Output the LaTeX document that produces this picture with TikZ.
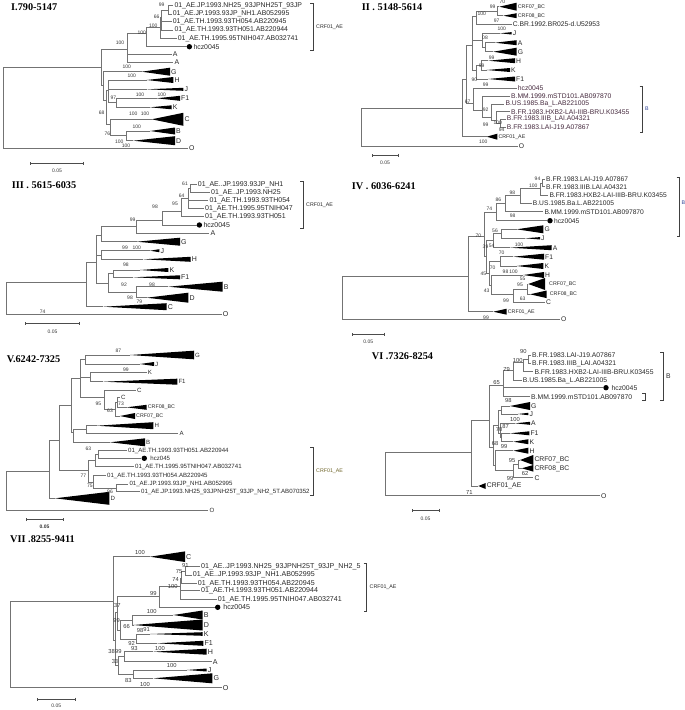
\documentclass[tikz,border=0pt]{standalone}
\usepackage{fontspec}
\setmainfont{Liberation Sans}
\newfontfamily\titlefont{Liberation Serif}
\usetikzlibrary{arrows.meta}
\definecolor{brgray}{RGB}{115,115,115}
\definecolor{txtgray}{RGB}{40,40,40}
\definecolor{bsgray}{RGB}{55,55,55}
\definecolor{bblue}{RGB}{45,65,150}
\definecolor{bred}{RGB}{70,42,62}
\definecolor{crfolive}{RGB}{110,100,40}
\tikzstyle{branch}   = [draw=brgray, line width=0.7pt]
\tikzstyle{clade}    = [fill=black]
\tikzstyle{leaf}     = [anchor=west, inner sep=1pt, text=txtgray, font=\fontsize{6.9}{7}\selectfont]
\tikzstyle{small}    = [anchor=west, inner sep=1pt, text=txtgray, font=\fontsize{5.3}{6}\selectfont]
\tikzstyle{bs}       = [inner sep=0pt, text=bsgray, font=\fontsize{5}{5}\selectfont]
\tikzstyle{dot}      = [circle, fill=black, inner sep=0pt, minimum size=5.4pt]
\tikzstyle{title}    = [anchor=west, inner sep=0pt, font=\titlefont\bfseries\fontsize{10.3}{12}\selectfont]
\tikzstyle{brk}      = [draw=black!75, line width=0.6pt]
\tikzstyle{scalebar} = [draw=black!70, line width=0.6pt, {Bar[width=3pt]}-{Bar[width=3pt]}]
% collapsed subtree: name, apex x, y, tip x, half height
\newcommand{\clade}[5]{%
  \coordinate (#1) at (#2,#3);
  \coordinate (#1t) at (#4,#3);
  \fill[clade] (#1) -- (#4,#3-#5) -- (#4,#3+#5) -- cycle;}
\begin{document}
\begin{tikzpicture}[x=1pt, y=-1pt]
\useasboundingbox (0,0) rectangle (685,710);
\fill[white] (0,0) rectangle (685,710);

% ---------------- I
\begin{scope}
\node[title] (t1) at (11,7.5) {I.790-5147};
\coordinate (a0) at (3.3,107.7);
\coordinate (a1) at (101.7,67);
\coordinate (a2) at (127.7,49.3);
\coordinate (a3) at (146.7,33.3);
\coordinate (a4) at (160,27.7);
\coordinate (a5) at (161.7,17);
\coordinate (a6) at (168.3,10);
\coordinate (a7) at (103.3,85);
\coordinate (a8) at (106,100);
\coordinate (a9) at (108.3,90);
\coordinate (a10) at (116.7,102.7);
\coordinate (a11) at (110,124);
\coordinate (a12) at (126.7,135.7);

\clade{k1g}{141.7}{71.7}{170}{4}
\clade{k1h}{146.7}{80}{173.3}{3}
\clade{k1j}{146.7}{89.3}{183.3}{1.5}
\clade{k1f}{156.7}{98.3}{180}{2.5}
\clade{k1k}{150}{107.3}{171.7}{2}
\clade{k1c}{151.7}{119.3}{183.3}{6.5}
\clade{k1b}{150}{131}{175}{3.5}
\clade{k1d}{133.3}{140.7}{175}{4.5}

\node[leaf] (l1a) at (173.3,5.7) {01\_AE.JP.1993.NH25\_93JPNH25T\_93JP};
\node[leaf] (l1b) at (171.7,14) {01\_AE.JP.1993.93JP\_NH1.AB052995};
\node[leaf] (l1c) at (171.7,21.7) {01\_AE.TH.1993.93TH054.AB220945};
\node[leaf] (l1d) at (173.3,30) {01\_AE.TH.1993.93TH051.AB220944};
\node[leaf] (l1e) at (176.7,38.3) {01\_AE.TH.1995.95TNIH047.AB032741};
\node[dot] (h1) at (189.4,46.7) {};
\node[leaf] (l1f) at (h1.east) {hcz0045};
\node[leaf] (l1g) at (171.7,54.3) {A};
\node[leaf] (l1h) at (173.3,62) {A};
\node[leaf] (l1i) at (k1gt) {G};
\node[leaf] (l1j) at (k1ht) {H};
\node[leaf] (l1k) at (k1jt) {J};
\node[leaf] (l1l) at (k1ft) {F1};
\node[leaf] (l1m) at (k1kt) {K};
\node[leaf] (l1n) at (k1ct) {C};
\node[leaf] (l1p) at (k1bt) {B};
\node[leaf] (l1q) at (k1dt) {D};
\node[leaf] (l1o) at (188,148.3) {O};

\draw[branch] (a0) |- (a1) (a0) |- (l1o.west);
\draw[branch] (a1) |- (a2) (a1) |- (a7);
\draw[branch] (a2) |- (a3) (a2) |- (l1g.west) (a2) |- (l1h.west);
\draw[branch] (a3) |- (a4) (a3) |- (h1.west);
\draw[branch] (a4) |- (a5) (a4) |- (l1e.west);
\draw[branch] (a5) |- (a6) (a5) |- (l1c.west) (a5) |- (l1d.west);
\draw[branch] (a6) |- (l1a.west) (a6) |- (l1b.west);
\draw[branch] (a7) |- (k1g) (a7) |- (a8);
\draw[branch] (a8) |- (a9) (a8) |- (a11);
\draw[branch] (a9) |- (k1h) (a9) |- (k1j) (a9) |- (a10);
\draw[branch] (a10) |- (k1f) (a10) |- (k1k);
\draw[branch] (a11) |- (k1c) (a11) |- (a12);
\draw[branch] (a12) |- (k1b) (a12) |- (k1d);

\foreach \px/\py/\bv [count=\i] in {161.7/4.3/99, 156.7/17/66, 153.3/25.5/100, 141.7/32.5/100,
    120/43/100, 126.7/66.7/100, 131.7/76/100, 113.3/98/97, 140/94.3/100, 161.7/94.3/100,
    101.7/113/68, 133.3/113.3/100, 145/113.3/100, 136.7/126.7/100, 107.3/133.3/76,
    119.3/141.7/100, 126/145.7/100}
  \node[bs] (s1-\i) at (\px,\py) {\bv};

\draw[brk] (310.3,3.3) -| (313.3,50) -- (310.3,50);
\node[small] (n1) at (315,27) {CRF01\_AE};
\coordinate (sc1a) at (30,163.3);
\coordinate (sc1b) at (84,163.3);
\draw[scalebar] (sc1a) -- (sc1b);
\node[bs] (sc1) at (57,171) {0.05};
\end{scope}

% ---------------- II
\begin{scope}[leaf/.append style={font=\fontsize{6.75}{7}\selectfont}]
\node[title] (t2) at (361.7,7.5) {II . 5148-5614};
\coordinate (b0) at (361.7,127.2);
\coordinate (b1) at (462.7,108.3);
\coordinate (b2) at (466.7,79);
\coordinate (b3) at (472.7,45);
\coordinate (b4) at (476.7,16.7);
\coordinate (b5) at (497,11);
\coordinate (b6) at (482.7,40);
\coordinate (b7) at (485,47);
\coordinate (b8) at (476.7,70);
\coordinate (b9) at (481.7,65.3);
\coordinate (b10) at (473.3,103);
\coordinate (b11) at (482.7,110);
\coordinate (b12) at (491.7,117);
\coordinate (b13) at (496.7,120);
\coordinate (b14) at (500,123);

\clade{k2a}{499.3}{6.7}{516.7}{4}
\clade{k2b}{503.3}{15.7}{516.7}{2.5}
\clade{k2j}{500}{33.3}{511.7}{1.2}
\clade{k2c}{495}{42.7}{516.7}{2.5}
\clade{k2g}{493.3}{51.7}{516.7}{4}
\clade{k2h}{488.3}{60.7}{515}{2.5}
\clade{k2k}{486.7}{70}{510}{2}
\clade{k2f}{488.3}{79}{515}{2.5}
\clade{k2e}{486.7}{136.7}{497.3}{3}

\node[small] (l2a) at (k2at) {CRF07\_BC};
\node[small] (l2b) at (k2bt) {CRF08\_BC};
\node[leaf] (l2c) at (511.7,24) {C.BR.1992.BR025-d.U52953};
\node[leaf] (l2d) at (k2jt) {J};
\node[leaf] (l2f) at (k2ct) {A};
\node[leaf] (l2g) at (k2gt) {G};
\node[leaf] (l2h) at (k2ht) {H};
\node[leaf] (l2k) at (k2kt) {K};
\node[leaf] (l2p) at (k2ft) {F1};
\node[leaf,text=bred] (l2hcz) at (516.7,88.3) {hcz0045};
\node[leaf,text=bred] (l2m) at (510,96) {B.MM.1999.mSTD101.AB097870};
\node[leaf,text=bred] (l2u) at (504.3,104) {B.US.1985.Ba\_L.AB221005};
\node[leaf,text=bred] (l2x) at (510,111.7) {B.FR.1983.HXB2-LAI-IIIB-BRU.K03455};
\node[leaf,text=bred] (l2i) at (505.7,119) {B.FR.1983.IIIB\_LAI.A04321};
\node[leaf,text=bred] (l2l) at (505.7,127.3) {B.FR.1983.LAI-J19.A07867};
\node[small] (l2e) at (k2et) {CRF01\_AE};
\node[leaf] (l2o) at (517.7,146) {O};

\draw[branch] (b0) |- (b1) (b0) |- (l2o.west);
\draw[branch] (b1) |- (b2) (b1) |- (k2e);
\draw[branch] (b2) |- (b3) (b2) |- (b10);
\draw[branch] (b3) |- (b4) (b3) |- (b6) (b3) |- (b8);
\draw[branch] (b4) |- (b5) (b4) |- (l2c.west);
\draw[branch] (b5) |- (k2a) (b5) |- (k2b);
\draw[branch] (b6) |- (k2j) (b6) |- (b7);
\draw[branch] (b7) |- (k2c) (b7) |- (k2g);
\draw[branch] (b8) |- (b9) (b8) |- (k2f);
\draw[branch] (b9) |- (k2h) (b9) |- (k2k);
\draw[branch] (b10) |- (l2hcz.west) (b10) |- (b11);
\draw[branch] (b11) |- (l2m.west) (b11) |- (b12);
\draw[branch] (b12) |- (l2u.west) (b12) |- (b13);
\draw[branch] (b13) |- (l2x.west) (b13) |- (b14);
\draw[branch] (b14) |- (l2i.west) (b14) |- (l2l.west);

\foreach \px/\py/\bv [count=\i] in {502.3/2/70, 492.7/6.7/99, 481.7/13.3/100, 496.7/21/97,
    501.7/28.3/100, 485/37.7/08, 491.7/57.3/99, 481.7/65.7/99, 474.3/80/90, 485.7/85/99,
    467.7/101.7/67, 485.7/109.3/92, 485.7/125/99, 497.7/122.7/100, 501.7/130/94, 483.3/141.7/100}
  \node[bs] (s2-\i) at (\px,\py) {\bv};

\draw[brk] (639.7,86) -| (642.7,132.3) -- (639.7,132.3);
\node[small,text=bblue] (n2) at (644,108.3) {B};
\coordinate (sc2a) at (371.7,155);
\coordinate (sc2b) at (398.3,155);
\draw[scalebar] (sc2a) -- (sc2b);
\node[bs] (sc2) at (385,163) {0.05};
\end{scope}

% ---------------- III
\begin{scope}[leaf/.append style={font=\fontsize{7}{7}\selectfont}]
\node[title] (t3) at (11.7,185.5) {III . 5615-6035};
\coordinate (c0) at (6,298.3);
\coordinate (c1) at (86,282.7);
\coordinate (c2) at (96.7,262);
\coordinate (c3) at (101,235);
\coordinate (c4) at (136.7,226);
\coordinate (c5) at (162.7,220);
\coordinate (c6) at (181.7,211);
\coordinate (c7) at (188.3,198);
\coordinate (c8) at (190,188.3);
\coordinate (c9) at (101.7,255);
\coordinate (c10) at (108.3,283);
\coordinate (c11) at (113.3,273.7);
\coordinate (c12) at (136.7,292.3);

\clade{k3g}{136.7}{241.7}{180}{4}
\clade{k3j}{150}{250.7}{159.3}{1.5}
\clade{k3h}{143.3}{259.3}{190.7}{2.5}
\clade{k3k}{140}{270}{168.3}{2}
\clade{k3f}{133.3}{277.3}{180}{2}
\clade{k3b}{168.3}{286.7}{222.7}{5}
\clade{k3d}{146.7}{297.7}{188.3}{5}
\clade{k3c}{103.3}{306.7}{166.7}{3.5}

\node[leaf] (l3a) at (196.7,184.3) {01\_AE..JP.1993.93JP\_NH1};
\node[leaf] (l3b) at (210,192.3) {01\_AE..JP.1993.NH25};
\node[leaf] (l3c) at (208.3,200.7) {01\_AE.TH.1993.93TH054};
\node[leaf] (l3d) at (204,208.3) {01\_AE.TH.1995.95TNIH047};
\node[leaf] (l3e) at (204,216.7) {01\_AE.TH.1993.93TH051};
\node[dot] (h3) at (199.4,225) {};
\node[leaf] (l3f) at (h3.east) {hcz0045};
\node[leaf] (l3g) at (209.3,233.3) {A};
\node[leaf] (l3h) at (k3gt) {G};
\node[leaf] (l3i) at (k3jt) {J};
\node[leaf] (l3j) at (k3ht) {H};
\node[leaf] (l3k) at (k3kt) {K};
\node[leaf] (l3l) at (k3ft) {F1};
\node[leaf] (l3m) at (k3bt) {B};
\node[leaf] (l3n) at (k3dt) {D};
\node[leaf] (l3p) at (k3ct) {C};
\node[leaf] (l3o) at (221.7,314) {O};

\draw[branch] (c0) |- (c1) (c0) |- (l3o.west);
\draw[branch] (c1) |- (c2) (c1) |- (k3c);
\draw[branch] (c2) |- (c3) (c2) |- (c9) (c2) |- (c10);
\draw[branch] (c3) |- (c4) (c3) |- (k3g);
\draw[branch] (c4) |- (c5) (c4) |- (l3g.west);
\draw[branch] (c5) |- (c6) (c5) |- (h3.west);
\draw[branch] (c6) |- (c7) (c6) |- (l3e.west);
\draw[branch] (c7) |- (c8) (c7) |- (l3c.west) (c7) |- (l3d.west);
\draw[branch] (c8) |- (l3a.west) (c8) |- (l3b.west);
\draw[branch] (c9) |- (k3j) (c9) |- (k3h);
\draw[branch] (c10) |- (c11) (c10) |- (c12);
\draw[branch] (c11) |- (k3k) (c11) |- (k3f);
\draw[branch] (c12) |- (k3b) (c12) |- (k3d);

\foreach \px/\py/\bv [count=\i] in {185/184/61, 181.7/196/64, 175/203.3/95, 155/207/98,
    132.7/219.3/99, 125/247.3/99, 136.7/247.3/100, 126/265/98, 124/285/92, 152/285/98,
    130/297.7/98, 139.3/302.2/79, 42.7/311.5/74}
  \node[bs] (s3-\i) at (\px,\py) {\bv};

\draw[brk] (300.3,181.7) -| (303.3,228.3) -- (300.3,228.3);
\node[small] (n3) at (305,205) {CRF01\_AE};
\coordinate (sc3a) at (25,323.3);
\coordinate (sc3b) at (80,323.3);
\draw[scalebar] (sc3a) -- (sc3b);
\node[bs] (sc3) at (52.5,332) {0.05};
\end{scope}

% ---------------- IV
\begin{scope}[leaf/.append style={font=\fontsize{6.7}{7}\selectfont}]
\node[title] (t4) at (351.7,186) {IV . 6036-6241};
\coordinate (d0) at (342.7,298);
\coordinate (d1) at (468.3,276.7);
\coordinate (d2) at (484,236);
\coordinate (d3) at (496.7,212);
\coordinate (d4) at (505,203);
\coordinate (d5) at (520,195);
\coordinate (d6) at (540,188);
\coordinate (d7) at (542.7,183);
\coordinate (d9) at (486.7,256);
\coordinate (d10) at (493,240);
\coordinate (d11) at (501.7,233.7);
\coordinate (d12) at (489,273);
\coordinate (d13) at (500,261.3);
\coordinate (d14) at (491.7,285);
\coordinate (d15) at (513.3,294);
\coordinate (d16) at (527,289);

\clade{k4e}{493.3}{311.7}{506.7}{3}
\clade{k4g}{516.7}{229.3}{543.3}{4}
\clade{k4j}{525}{238.3}{540}{1.2}
\clade{k4a}{510}{247.7}{551.7}{2.5}
\clade{k4f}{513.3}{256.7}{544}{3}
\clade{k4k}{516.7}{266}{543.3}{3}
\clade{k4h}{523.3}{275}{544}{3}
\clade{k4s}{528.3}{284}{545}{6}
\clade{k4t}{530}{294.3}{546.7}{3.8}

\node[leaf] (l4a) at (545,179.3) {B.FR.1983.LAI-J19.A07867};
\node[leaf] (l4b) at (545,186.7) {B.FR.1983.IIIB.LAI.A04321};
\node[leaf] (l4c) at (548.3,195) {B.FR.1983.HXB2-LAI-IIIB-BRU.K03455};
\node[leaf] (l4d) at (531.7,203.3) {B.US.1985.Ba.L.AB221005};
\node[leaf] (l4e) at (543.3,211.7) {B.MM.1999.mSTD101.AB097870};
\node[dot] (h4) at (550,220.7) {};
\node[leaf] (l4f) at (h4.east) {hcz0045};
\node[leaf] (l4g) at (k4gt) {G};
\node[leaf] (l4h) at (k4jt) {J};
\node[leaf] (l4i) at (k4at) {A};
\node[leaf] (l4j) at (k4ft) {F1};
\node[leaf] (l4k) at (k4kt) {K};
\node[leaf] (l4l) at (k4ht) {H};
\node[small] (l4m) at ([xshift=3pt]k4st) {CRF07\_BC};
\node[small] (l4n) at ([xshift=2pt]k4tt) {CRF08\_BC};
\node[leaf] (l4c2) at (545,302.3) {C};
\node[small] (l4p) at (k4et) {CRF01\_AE};
\node[leaf] (l4o) at (560,319.3) {O};

\draw[branch] (d0) |- (d1) (d0) |- (l4o.west);
\draw[branch] (d1) |- (d2) (d1) |- (k4e);
\draw[branch] (d2) |- (d3) (d2) |- (d9);
\draw[branch] (d3) |- (d4) (d3) |- (h4.west);
\draw[branch] (d4) |- (d5) (d4) |- (l4e.west);
\draw[branch] (d5) |- (d6) (d5) |- (l4d.west);
\draw[branch] (d6) |- (d7) (d6) |- (l4c.west);
\draw[branch] (d7) |- (l4a.west) (d7) |- (l4b.west);
\draw[branch] (d9) |- (d10) (d9) |- (d12);
\draw[branch] (d10) |- (d11) (d10) |- (k4a);
\draw[branch] (d11) |- (k4g) (d11) |- (k4j);
\draw[branch] (d12) |- (d13) (d12) |- (d14);
\draw[branch] (d13) |- (k4f) (d13) |- (k4k);
\draw[branch] (d14) |- (k4h) (d14) |- (d15);
\draw[branch] (d15) |- (d16) (d15) |- (l4c2.west);
\draw[branch] (d16) |- (k4s) (d16) |- (k4t);

\foreach \px/\py/\bv [count=\i] in {537.5/178.5/94, 533.3/186.2/100, 512.3/192.3/98, 498.3/200/86,
    489.3/208.3/74, 512.7/215.7/98, 478.3/236/70, 495/231/56, 491.7/246/54, 485.5/246.7/39,
    519/244.3/100, 501.7/252.7/70, 492.7/267.3/70, 483.3/273.3/45, 505.5/271.7/98,
    513.5/271.7/100, 522.7/278.3/55, 520/285/95, 486.7/290.7/43, 506/300.7/99,
    522.7/298.3/63, 486/317.3/99}
  \node[bs] (s4-\i) at (\px,\py) {\bv};

\draw[brk] (676.5,177.3) -| (679.5,236) -- (676.5,236);
\node[small,text=bblue] (n4) at (680.5,203) {B};
\coordinate (sc4a) at (351.7,334);
\coordinate (sc4b) at (385,334);
\draw[scalebar] (sc4a) -- (sc4b);
\node[bs] (sc4) at (368.3,342) {0.05};
\end{scope}

% ---------------- V
\begin{scope}[leaf/.append style={font=\fontsize{6.1}{7}\selectfont}]
\node[title] (t5) at (6.7,359) {V.6242-7325};
\coordinate (e0) at (6,490.8);
\coordinate (e1) at (49.3,471.7);
\coordinate (e2) at (59.3,440);
\coordinate (e3) at (71.7,405);
\coordinate (e4) at (80,378);
\coordinate (e5) at (85,359.5);
\coordinate (e6) at (90,377.2);
\coordinate (e7) at (104,397);
\coordinate (e8) at (115,409);
\coordinate (e9) at (117.5,402.8);
\coordinate (e10) at (73.3,432);
\coordinate (e11) at (86,429.5);
\coordinate (e12) at (88.3,470);
\coordinate (e13) at (95,460);
\coordinate (e14) at (98.3,454.5);
\coordinate (e15) at (93,482);
\coordinate (e16) at (116.7,488);

\clade{k5d}{55}{498.3}{109.3}{6.5}
\clade{k5g}{130}{355}{194}{4.3}
\clade{k5j}{140}{364}{154}{2}
\clade{k5f}{103.3}{381.7}{177.3}{3}
\clade{k5s}{120}{416}{135}{3}
\clade{k5t}{126.7}{407.3}{146.7}{2.5}
\clade{k5h}{96.7}{425.7}{153.3}{3.5}
\clade{k5b}{110}{442.3}{145}{4}

\node[leaf] (l5g) at (k5gt) {G};
\node[leaf] (l5j) at (k5jt) {J};
\node[leaf] (l5k) at (146.7,372.7) {K};
\node[leaf] (l5f) at (k5ft) {F1};
\node[leaf] (l5c) at (136,390.7) {C};
\node[leaf] (l5c2) at (120,397.3) {C};
\node[small] (l5t) at (k5tt) {CRF08\_BC};
\node[small] (l5s) at (k5st) {CRF07\_BC};
\node[leaf] (l5h) at (k5ht) {H};
\node[leaf] (l5a) at (178.3,433.3) {A};
\node[leaf] (l5b) at (k5bt) {B};
\node[leaf] (l5t1) at (127,450.7) {01\_AE.TH.1993.93TH051.AB220944};
\node[dot] (h5) at (144.3,458.3) {};
\node[leaf] (l5hz) at ([xshift=2pt]h5.east) {hcz045};
\node[leaf] (l5t2) at (134,466.7) {01\_AE.TH.1995.95TNIH047.AB032741};
\node[leaf] (l5t3) at (106,475.7) {01\_AE.TH.1993.93TH054.AB220945};
\node[leaf] (l5n1) at (128.3,484) {01\_AE.JP.1993.93JP\_NH1.AB052995};
\node[leaf] (l5n2) at (140,491.7) {01\_AE.JP.1993.NH25\_93JPNH25T\_93JP\_NH2\_5T.AB070352};
\node[leaf] (l5d) at (k5dt) {D};
\node[leaf] (l5o) at (208.3,510) {O};

\draw[branch] (e0) |- (e1) (e0) |- (l5o.west);
\draw[branch] (e1) |- (e2) (e1) |- (k5d);
\draw[branch] (e2) |- (e3) (e2) |- (e12);
\draw[branch] (e3) |- (e4) (e3) |- (e10);
\draw[branch] (e4) |- (e5) (e4) |- (e6) (e4) |- (e7);
\draw[branch] (e5) |- (k5g) (e5) |- (k5j);
\draw[branch] (e6) |- (l5k.west) (e6) |- (k5f);
\draw[branch] (e7) |- (l5c.west) (e7) |- (e8);
\draw[branch] (e8) |- (e9) (e8) |- (k5s);
\draw[branch] (e9) |- (l5c2.west) (e9) |- (k5t);
\draw[branch] (e10) |- (e11) (e10) |- (k5b);
\draw[branch] (e11) |- (k5h) (e11) |- (l5a.west);
\draw[branch] (e12) |- (e13) (e12) |- (e15);
\draw[branch] (e13) |- (e14) (e13) |- (l5t2.west);
\draw[branch] (e14) |- (l5t1.west) (e14) |- (h5.west);
\draw[branch] (e15) |- (l5t3.west) (e15) |- (e16);
\draw[branch] (e16) |- (l5n1.west) (e16) |- (l5n2.west);

\foreach \px/\py/\bv [count=\i] in {118.3/350.7/87, 126/369.3/99, 98.3/404/95, 121/404/73,
    110/410.5/63, 88.3/449/63, 83.3/475.7/77, 90/486/75, 110/492/96}
  \node[bs] (s5-\i) at (\px,\py) {\bv};

\draw[brk] (310.3,447.3) -| (313.3,495) -- (310.3,495);
\node[small,text=crfolive] (n5) at (315,471) {CRF01\_AE};
\coordinate (sc5a) at (25.7,519.5);
\coordinate (sc5b) at (63.3,519.5);
\draw[scalebar] (sc5a) -- (sc5b);
\node[bs,font=\bfseries\fontsize{5}{5}\selectfont] (sc5) at (44.5,527) {0.05};
\end{scope}

% ---------------- VI
\begin{scope}[leaf/.append style={font=\fontsize{6.8}{7}\selectfont},
              bs/.append style={font=\fontsize{5.8}{6}\selectfont}]
\node[title] (t6) at (371.7,356) {VI .7326-8254};
\coordinate (f0) at (385,474.2);
\coordinate (f1) at (471.7,452.7);
\coordinate (f2) at (489.3,420);
\coordinate (f3) at (503.3,385);
\coordinate (f4) at (513.3,370);
\coordinate (f5) at (523,362);
\coordinate (f6) at (528.7,359.2);
\coordinate (f8) at (493.3,447);
\coordinate (f9) at (498.3,425);
\coordinate (f10) at (501.7,410);
\coordinate (f11) at (500,433);
\coordinate (f12) at (501.7,437.5);
\coordinate (f13) at (495,465);
\coordinate (f14) at (513.3,470);
\coordinate (f15) at (518.3,464);

\clade{k6e}{478.3}{486}{485.7}{3}
\clade{k6g}{510}{406}{530}{4}
\clade{k6j}{518}{414}{528.3}{1.2}
\clade{k6a}{515}{423.3}{530}{1.5}
\clade{k6f}{510}{433.3}{529.3}{2}
\clade{k6k}{513.3}{441.7}{528.3}{2.5}
\clade{k6h}{513.3}{450.7}{528.3}{3}
\clade{k6s}{520}{460}{533.3}{5}
\clade{k6t}{521.7}{468.3}{533.3}{3.3}

\node[leaf] (l6a) at (531,355) {B.FR.1983.LAI-J19.A07867};
\node[leaf] (l6b) at (531,363.3) {B.FR.1983.IIIB\_LAI.A04321};
\node[leaf] (l6c) at (533.3,371.7) {B.FR.1983.HXB2-LAI-IIIB-BRU.K03455};
\node[leaf] (l6d) at (521.7,380.7) {B.US.1985.Ba\_L.AB221005};
\node[dot] (h6) at (606,387.7) {};
\node[leaf] (l6f) at ([xshift=1.5pt]h6.east) {hcz0045};
\node[leaf] (l6e) at (530,396.7) {B.MM.1999.mSTD101.AB097870};
\node[leaf] (l6g) at (k6gt) {G};
\node[leaf] (l6h) at (k6jt) {J};
\node[leaf] (l6i) at (k6at) {A};
\node[leaf] (l6j) at (k6ft) {F1};
\node[leaf] (l6k) at (k6kt) {K};
\node[leaf] (l6l) at (k6ht) {H};
\node[leaf] (l6m) at (k6st) {CRF07\_BC};
\node[leaf] (l6n) at (k6tt) {CRF08\_BC};
\node[leaf] (l6c2) at (533.3,477.7) {C};
\node[leaf] (l6p) at (k6et) {CRF01\_AE};
\node[leaf] (l6o) at (600,495.7) {O};

\draw[branch] (f0) |- (f1) (f0) |- (l6o.west);
\draw[branch] (f1) |- (f2) (f1) |- (k6e);
\draw[branch] (f2) |- (f3) (f2) |- (f8);
\draw[branch] (f3) |- (f4) (f3) |- (h6.west) (f3) |- (l6e.west);
\draw[branch] (f4) |- (f5) (f4) |- (l6d.west);
\draw[branch] (f5) |- (f6) (f5) |- (l6c.west);
\draw[branch] (f6) |- (l6a.west) (f6) |- (l6b.west);
\draw[branch] (f8) |- (f9) (f8) |- (f13);
\draw[branch] (f9) |- (f10) (f9) |- (f11);
\draw[branch] (f10) |- (k6g) (f10) |- (k6j);
\draw[branch] (f11) |- (k6a) (f11) |- (f12);
\draw[branch] (f12) |- (k6f) (f12) |- (k6k);
\draw[branch] (f13) |- (k6h) (f13) |- (f14);
\draw[branch] (f14) |- (f15) (f14) |- (l6c2.west);
\draw[branch] (f15) |- (k6s) (f15) |- (k6t);

\foreach \px/\py/\bv [count=\i] in {523.3/351.5/90, 517.7/360.2/100, 506.7/369/79, 496.7/382.2/65,
    508.3/400/98, 515/419.5/100, 505.7/426/87, 499/429.8/70, 495/443.3/68, 504/446/99,
    512/460/95, 525/473.3/62, 510/478.3/99, 469.3/492.7/71}
  \node[bs] (s6-\i) at (\px,\py) {\bv};

\draw[brk] (642,393.3) -| (645,400) -- (642,400);
\draw[brk] (660.3,352.7) -| (663.3,400) -- (660.3,400);
\node[leaf] (n6) at (665,376) {B};
\coordinate (sc6a) at (411.7,510);
\coordinate (sc6b) at (439.3,510);
\draw[scalebar] (sc6a) -- (sc6b);
\node[bs,font=\fontsize{5}{5}\selectfont] (sc6) at (425.5,518.5) {0.05};
\end{scope}

% ---------------- VII
\begin{scope}[leaf/.append style={font=\fontsize{7.1}{7}\selectfont},
              bs/.append style={font=\fontsize{5.8}{6}\selectfont}]
\node[title] (t7) at (10,539) {VII .8255-9411};
\coordinate (g0) at (10.7,644.3);
\coordinate (g1) at (113.3,601);
\coordinate (g2) at (115,640);
\coordinate (g3) at (117.3,612);
\coordinate (g4) at (159.3,596);
\coordinate (g5) at (180,586);
\coordinate (g6) at (181.7,578.5);
\coordinate (g7) at (185,571);
\coordinate (g8) at (120,630);
\coordinate (g9) at (132.7,620);
\coordinate (g10) at (136.7,639);
\coordinate (g11) at (118.3,665);
\coordinate (g12) at (124,656.7);
\coordinate (g13) at (133.3,674);

\clade{k7c}{150}{556.7}{185}{5.3}
\clade{k7b}{173.3}{615}{202.7}{4.5}
\clade{k7d}{133.3}{625}{202.7}{5.5}
\clade{k7k}{150}{634}{202.7}{1.8}
\clade{k7f}{156.7}{643.3}{203.3}{2.5}
\clade{k7h}{153.3}{651.7}{206.7}{3}
\clade{k7j}{186.7}{670}{206.7}{1.5}
\clade{k7g}{153.3}{678.3}{212.3}{5}

\node[leaf] (l7c) at (k7ct) {C};
\node[leaf] (l7a) at (200,566.7) {01\_AE..JP.1993.NH25\_93JPNH25T\_93JP\_NH2\_5};
\node[leaf] (l7b) at (191.7,575) {01\_AE..JP.1993.93JP\_NH1.AB052995};
\node[leaf] (l7t1) at (196.7,583.3) {01\_AE.TH.1993.93TH054.AB220945};
\node[leaf] (l7t2) at (200,590.7) {01\_AE.TH.1993.93TH051.AB220944};
\node[leaf] (l7t3) at (216.7,599.3) {01\_AE.TH.1995.95TNIH047.AB032741};
\node[dot] (h7) at (217.7,607.3) {};
\node[leaf] (l7hz) at ([xshift=1.5pt]h7.east) {hcz0045};
\node[leaf] (l7bb) at (k7bt) {B};
\node[leaf] (l7d) at (k7dt) {D};
\node[leaf] (l7k) at (k7kt) {K};
\node[leaf] (l7f) at (k7ft) {F1};
\node[leaf] (l7h) at (k7ht) {H};
\node[leaf] (l7a2) at (211.7,661.7) {A};
\node[leaf] (l7j) at (k7jt) {J};
\node[leaf] (l7g) at (k7gt) {G};
\node[leaf] (l7o) at (221.7,687.7) {O};

\draw[branch] (g0) |- (g1) (g0) |- (l7o.west);
\draw[branch] (g1) |- (k7c) (g1) |- (g2);
\draw[branch] (g2) |- (g3) (g2) |- (g11);
\draw[branch] (g3) |- (g4) (g3) |- (g8);
\draw[branch] (g4) |- (g5) (g4) |- (h7.west);
\draw[branch] (g5) |- (g6) (g5) |- (l7t2.west) (g5) |- (l7t3.west);
\draw[branch] (g6) |- (g7) (g6) |- (l7t1.west);
\draw[branch] (g7) |- (l7a.west) (g7) |- (l7b.west);
\draw[branch] (g8) |- (g9) (g8) |- (g10);
\draw[branch] (g9) |- (k7b) (g9) |- (k7d);
\draw[branch] (g10) |- (k7k) (g10) |- (k7f);
\draw[branch] (g11) |- (g12) (g11) |- (g13);
\draw[branch] (g12) |- (k7h) (g12) |- (l7a2.west);
\draw[branch] (g13) |- (k7j) (g13) |- (k7g);

\foreach \px/\py/\bv [count=\i] in {140/552.7/100, 185.3/565/91, 179/571.7/75, 175.7/579/74,
    172.7/586/100, 153.3/593.8/99, 117.3/605/37, 151.7/611/100, 116.7/620/99, 126.7/626/66,
    140/630/98, 146.5/629.5/91, 131.7/643.3/92, 134.3/648.3/93, 160/648.5/100, 111.7/651.7/38,
    118.3/651.7/99, 115/661.7/33, 171.7/665/100, 128.3/680/83, 145/684.3/100}
  \node[bs] (s7-\i) at (\px,\py) {\bv};

\draw[brk] (363.7,563.3) -| (366.7,611.7) -- (363.7,611.7);
\node[small] (n7) at (368.5,587.5) {CRF01\_AE};
\coordinate (sc7a) at (36.7,699);
\coordinate (sc7b) at (76,699);
\draw[scalebar] (sc7a) -- (sc7b);
\node[bs,font=\fontsize{5}{5}\selectfont] (sc7) at (56.3,706) {0.05};
\end{scope}
\end{tikzpicture}
\end{document}
